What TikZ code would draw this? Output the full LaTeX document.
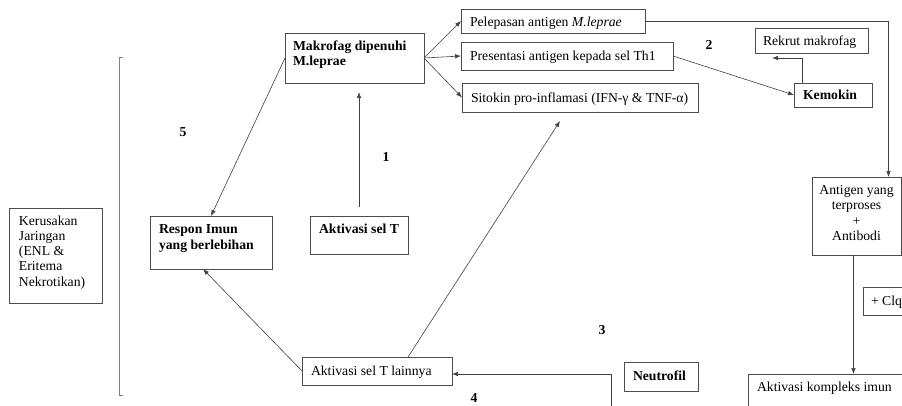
\documentclass[tikz,border=0pt]{standalone}
\usepackage{fontspec}
\setmainfont{Liberation Serif}
\usetikzlibrary{arrows.meta}
\newcommand{\fs}{\fontsize{13.7pt}{15.5pt}\selectfont}
\newcommand{\mlines}[2]{\begin{tabular}[t]{@{}#1@{}}#2\end{tabular}}
\begin{document}
\begin{tikzpicture}[x=1pt,y=-1pt,
  box/.style={draw=black!70, line width=0.6pt, inner sep=0pt, outer sep=0pt, anchor=north west},
  txt/.style={inner sep=0pt, outer sep=0pt, font=\fs, anchor=base west},
  num/.style={inner sep=0pt, outer sep=0pt, font=\fs\bfseries},
  arr/.style={draw=black!75, line width=0.6pt, -{Latex[length=6pt,width=4.5pt]}},
  brk/.style={draw=black!50, line width=0.6pt}]
\useasboundingbox (0,0) rectangle (902,405);
\clip (0,0) rectangle (902,405);
% boxes
\node[box, minimum width=139pt, minimum height=50pt] (mak) at (285,33) {};
\node[box, minimum width=184pt, minimum height=24pt] (pel) at (461,9) {};
\node[box, minimum width=212pt, minimum height=28pt] (pre) at (461,42) {};
\node[box, minimum width=236pt, minimum height=29pt] (sit) at (462,83) {};
\node[box, minimum width=113pt, minimum height=25pt] (rek) at (755,28) {};
\node[box, minimum width=78pt, minimum height=24pt] (kem) at (794,83) {};
\node[box, minimum width=89pt, minimum height=78pt] (ant) at (812,177) {};
\node[box, minimum width=80pt, minimum height=28pt] (clq) at (863,287) {};
\node[box, minimum width=200pt, minimum height=60pt] (kom) at (748,374) {};
\node[box, minimum width=74pt, minimum height=29pt] (neu) at (624,362) {};
\node[box, minimum width=150pt, minimum height=28pt] (lai) at (302,357) {};
\node[box, minimum width=122pt, minimum height=53pt] (res) at (150,216) {};
\node[box, minimum width=98pt, minimum height=38pt] (akt) at (310,216) {};
\node[box, minimum width=93pt, minimum height=95pt] (ker) at (9,208) {};
% texts
\node[txt] (makT) at (293,50) {\mlines{l}{\textbf{Makrofag dipenuhi}\\\textbf{M.leprae}}};
\node[txt] (pelT) at (470,26) {Pelepasan antigen \textit{M.leprae}};
\node[txt] (preT) at (470,60.5) {Presentasi antigen kepada sel Th1};
\node[txt] (sitT) at (471,102) {Sitokin pro-inflamasi (IFN-γ \& TNF-α)};
\node[txt] (rekT) at (763,45) {Rekrut makrofag};
\node[txt] (kemT) at (803,99.5) {\textbf{Kemokin}};
\node[txt, anchor=base] (antT) at (856.5,194) {\mlines{c}{Antigen yang\\terproses\\+\\Antibodi}};
\node[txt] (clqT) at (871,305.5) {+ Clq};
\node[txt] (komT) at (757,391) {Aktivasi kompleks imun};
\node[txt] (neuT) at (633,380) {\textbf{Neutrofil}};
\node[txt] (laiT) at (311,375.5) {Aktivasi sel T lainnya};
\node[txt] (resT) at (159,233.5) {\mlines{l}{\textbf{Respon Imun}\\\textbf{yang berlebihan}}};
\node[txt, anchor=base] (aktT) at (359,233.5) {\textbf{Aktivasi sel T}};
\node[txt] (kerT) at (19,225) {\fontsize{13.7pt}{15.3pt}\selectfont\mlines{l}{Kerusakan\\Jaringan\\(ENL \&\\Eritema\\Nekrotikan)}};
% numbers
\node[num] (n5) at (183,132) {5};
\node[num] (n1) at (386,157) {1};
\node[num] (n2) at (709,45) {2};
\node[num] (n3) at (602,330) {3};
\node[num] (n4) at (474,398) {4};
% bracket
\draw[brk] (123,57) -- (119,57) -- (119,395) -- (123,395);
% connectors
\draw[arr] (mak.east) -- (pel.west);
\draw[arr] (mak.east) -- (pre.west);
\draw[arr] (mak.east) -- (sit.west);
\draw[arr] (mak.west) -- (res.north);
\draw[arr, shorten <=9pt, shorten >=9pt] (akt.north) -- (akt.north |- mak.south);
\coordinate (sitB) at (560,121);
\draw[arr] ([xshift=31pt]lai.north) -- (sitB);
\draw[arr] (lai.west) -- ([xshift=-8pt]res.south);
\draw[arr] (pre.east) -- (kem.west);
\coordinate (rekA) at (772,58);
\draw[arr] ([xshift=8pt]kem.north west) |- (rekA);
\draw[arr] (pel.east) -| ([xshift=32pt]ant.north);
\draw[arr] ([xshift=-3pt]ant.south) -- ([xshift=-3pt]ant.south |- kom.north);
\coordinate (nB) at (611,410);
\coordinate (nC) at (611,374);
\draw[arr] (nB) -- (nC) -- (nC -| lai.east);
\end{tikzpicture}
\end{document}
